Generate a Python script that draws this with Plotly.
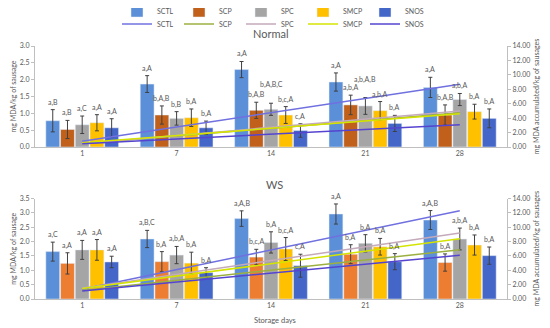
import plotly.graph_objects as go

days = ["1", "7", "14", "21", "28"]
series = ["SCTL", "SCP", "SPC", "SMCP", "SNOS"]

# Normal panel: mean MDA (mg/kg) and error bars
normal_sctl = [0.78, 1.87, 2.30, 1.93, 1.77]
normal_scp = [0.52, 0.95, 1.09, 1.25, 0.95]
normal_spc = [0.66, 0.85, 1.12, 1.22, 1.41]
normal_smcp = [0.72, 0.87, 0.95, 1.08, 1.05]
normal_snos = [0.57, 0.57, 0.49, 0.70, 0.85]
normal_err_sctl = [0.33, 0.25, 0.24, 0.27, 0.30]
normal_err_scp = [0.27, 0.27, 0.24, 0.29, 0.30]
normal_err_spc = [0.26, 0.20, 0.18, 0.25, 0.18]
normal_err_smcp = [0.24, 0.26, 0.25, 0.27, 0.22]
normal_err_snos = [0.27, 0.20, 0.20, 0.24, 0.28]

# WS panel
ws_sctl = [1.65, 2.09, 2.80, 2.96, 2.75]
ws_scp = [1.24, 1.30, 1.46, 1.56, 1.27]
ws_spc = [1.71, 1.53, 1.97, 1.94, 2.09]
ws_smcp = [1.71, 1.25, 1.74, 1.82, 1.88]
ws_snos = [1.29, 0.92, 1.16, 1.30, 1.51]
ws_err_sctl = [0.33, 0.30, 0.27, 0.35, 0.33]
ws_err_scp = [0.37, 0.35, 0.27, 0.33, 0.30]
ws_err_spc = [0.33, 0.30, 0.37, 0.30, 0.38]
ws_err_smcp = [0.36, 0.38, 0.40, 0.29, 0.35]
ws_err_snos = [0.20, 0.17, 0.40, 0.28, 0.30]

# Significance letters
normal_labels = {
    "SCTL": ["a,B", "a,A", "a,A", "a,A", "a,A"],
    "SCP": ["a,B", "b,A,B", "b,A,B", "a,b,A", "b,A,B"],
    "SPC": ["a,C", "b,B", "b,A,B,C", "a,b,A,B", "a,b,A"],
    "SMCP": ["a,A", "b,A", "b,c,A", "a,b,A", "b,A"],
    "SNOS": ["a,A", "b,A", "c,A", "b,A", "b,A"],
}
ws_labels = {
    "SCTL": ["a,C", "a,B,C", "a,A,B", "a,A", "a,A,B"],
    "SCP": ["a,A", "b,A", "b,c,A", "b,A", "b,A"],
    "SPC": ["a,A", "a,b,A", "b,A", "b,A", "a,b,A"],
    "SMCP": ["a,A", "b,A", "b,c,A", "b,A", "b,A"],
    "SNOS": ["a,A", "b,A", "c,A", "b,A", "b,A"],
}

# Accumulated MDA linear trend lines (value at day 1, value at day 28)
trend_days = ["1", "28"]
normal_trend = {
    "SCTL": [0.8, 8.7], "SCP": [0.45, 4.75], "SPC": [0.45, 5.0],
    "SMCP": [0.6, 4.6], "SNOS": [0.45, 3.1],
}
ws_trend = {
    "SCTL": [1.35, 12.3], "SCP": [1.2, 6.85], "SPC": [1.5, 9.2],
    "SMCP": [1.45, 8.4], "SNOS": [1.1, 6.1],
}

normal_means = dict(zip(series, [normal_sctl, normal_scp, normal_spc, normal_smcp, normal_snos]))
normal_errs = dict(zip(series, [normal_err_sctl, normal_err_scp, normal_err_spc, normal_err_smcp, normal_err_snos]))
ws_means = dict(zip(series, [ws_sctl, ws_scp, ws_spc, ws_smcp, ws_snos]))
ws_errs = dict(zip(series, [ws_err_sctl, ws_err_scp, ws_err_spc, ws_err_smcp, ws_err_snos]))

bar_colors_normal = {"SCTL": "#5B8FD8", "SCP": "#C0601A", "SPC": "#A5A5A5", "SMCP": "#FFC000", "SNOS": "#4466C8"}
bar_colors_ws = {"SCTL": "#5B8FD8", "SCP": "#ED7D31", "SPC": "#A5A5A5", "SMCP": "#FFC000", "SNOS": "#4466C8"}
line_colors = {"SCTL": "#7070E0", "SCP": "#9CB040", "SPC": "#C4AABA", "SMCP": "#D4E400", "SNOS": "#5544D0"}

FONT = "Lato"
GRAY = "#595959"
AX = "#BFBFBF"
BARGAP = 0.22
OFF = 8  # default page body margin offsets the figure
W, H = 550 - OFF, 328 - OFF
ML, MR, MT, MB = 35 - OFF, 43, 46 - OFF, 29
PLOT_H = H - MT - MB
PLOT_W = W - ML - MR

def py(pix):
    # page pixel row -> paper y
    return (H - MB - (pix - OFF)) / PLOT_H

def px(pix):
    # page pixel column -> paper x
    return (pix - OFF - ML) / PLOT_W

fig = go.Figure()

def add_panel(means, errs, colors, trend, xa, ya, ya2, show):
    for s in series:
        fig.add_trace(go.Bar(
            x=days, y=means[s], name=s, marker_color=colors[s],
            xaxis=xa, yaxis=ya, showlegend=show, legend="legend",
            error_y=dict(type="data", array=errs[s], color="#404040", thickness=1, width=2),
        ))
    for s in series:
        fig.add_trace(go.Scatter(
            x=trend_days, y=trend[s], name=s, mode="lines",
            line=dict(color=line_colors[s], width=1.5),
            xaxis=xa, yaxis=ya2, showlegend=show, legend="legend2",
        ))

add_panel(normal_means, normal_errs, bar_colors_normal, normal_trend, "x", "y", "y2", True)
add_panel(ws_means, ws_errs, bar_colors_ws, ws_trend, "x2", "y3", "y4", False)

# Letter annotations above error bars
slot = (1 - BARGAP) / len(series)
def add_labels(means, errs, labels, xref, yref):
    for j, s in enumerate(series):
        for i in range(len(days)):
            xpos = i - (1 - BARGAP) / 2 + (j + 0.5) * slot
            txt = labels[s][i]
            extra = 11 if (s == "SPC" and len(txt) > 5) else 0
            fig.add_annotation(
                x=xpos, y=means[s][i] + errs[s][i], xref=xref, yref=yref,
                text=txt, showarrow=False, yanchor="bottom", yshift=1 + extra,
                font=dict(size=7, color=GRAY, family=FONT),
            )

add_labels(normal_means, normal_errs, normal_labels, "x", "y")
add_labels(ws_means, ws_errs, ws_labels, "x2", "y3")

fig.add_annotation(text="Normal", x=px(271), y=py(33), xref="paper", yref="paper", showarrow=False,
                   yanchor="middle", font=dict(size=11, color=GRAY, family=FONT))
fig.add_annotation(text="WS", x=px(274), y=py(184), xref="paper", yref="paper", showarrow=False,
                   yanchor="middle", font=dict(size=11, color=GRAY, family=FONT))
fig.add_annotation(text="Storage days", x=px(275), y=py(320), xref="paper", yref="paper", showarrow=False,
                   yanchor="middle", font=dict(size=7.5, color=GRAY, family=FONT))

tickfont = dict(size=7, color=GRAY, family=FONT)
titlefont = dict(size=7, color=GRAY, family=FONT)
common_y = dict(showline=True, linecolor=AX, ticks="outside", ticklen=3, tickcolor=AX,
                showgrid=False, zeroline=False, tickfont=tickfont)
common_x = dict(showline=True, linecolor=AX, ticks="", showgrid=False, tickfont=tickfont,
                type="category")

legend_common = dict(orientation="h", xref="paper", yref="paper", xanchor="left", yanchor="middle",
                     entrywidth=17, font=dict(size=7, color=GRAY, family=FONT),
                     itemwidth=30, tracegroupgap=0, bgcolor="rgba(0,0,0,0)")

fig.update_layout(
    width=W, height=H,
    margin=dict(l=ML, r=MR, t=MT, b=MB, autoexpand=False),
    paper_bgcolor="white", plot_bgcolor="white",
    barmode="group", bargap=BARGAP, bargroupgap=0.06,
    font=dict(family=FONT, color=GRAY),
    xaxis=dict(domain=[0, 1], anchor="y", **common_x),
    xaxis2=dict(domain=[0, 1], anchor="y3", **common_x),
    yaxis=dict(domain=[py(147), 1], anchor="x", range=[0, 3.0], dtick=0.5, tickformat=".1f",
               title=dict(text="mg MDA/kg of sausage", font=titlefont, standoff=2), **common_y),
    yaxis2=dict(domain=[py(147), 1], anchor="x", overlaying="y", side="right", range=[0, 14], dtick=2,
                tickformat=".2f",
                title=dict(text="mg MDA accumulated/kg of sausages", font=titlefont, standoff=4), **common_y),
    yaxis3=dict(domain=[0, py(198.5)], anchor="x2", range=[0, 3.5], dtick=0.5, tickformat=".1f",
                title=dict(text="mg MDA/kg of sausage", font=titlefont, standoff=2), **common_y),
    yaxis4=dict(domain=[0, py(198.5)], anchor="x2", overlaying="y3", side="right", range=[0, 14], dtick=2,
                tickformat=".2f",
                title=dict(text="mg MDA accumulated/kg of sausages", font=titlefont, standoff=4), **common_y),
    legend=dict(x=px(117), y=py(11), **legend_common),
    legend2=dict(x=px(117), y=py(24), **legend_common),
)

fig.write_html("out.html")
